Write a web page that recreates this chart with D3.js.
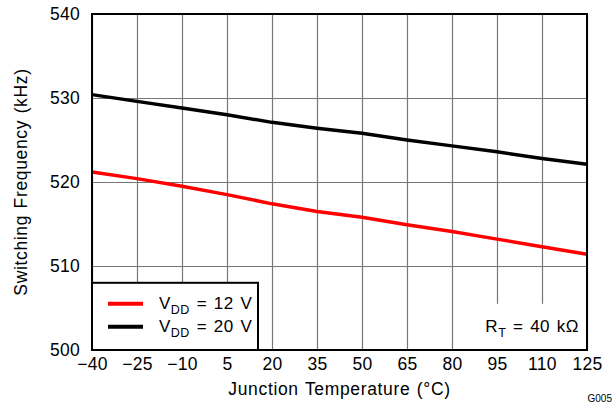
<!DOCTYPE html>
<html lang="en">
<head>
<meta charset="utf-8">
<title>Switching Frequency vs Junction Temperature</title>
<style>
  body { margin: 0; background: #fff; }
  svg text { font-family: "Liberation Sans", Arial, sans-serif; fill: #000; }
</style>
</head>
<body>
<svg width="612" height="403"></svg>
<script src="https://d3js.org/d3.v7.min.js"></script>
<script>
var temps = [-40, -25, -10, 5, 20, 35, 50, 65, 80, 95, 110, 125];
var freq20V = [530.4, 529.6, 528.8, 528.0, 527.1, 526.4, 525.8, 525.0, 524.3, 523.6, 522.8, 522.1];
var freq12V = [521.2, 520.4, 519.5, 518.5, 517.4, 516.5, 515.8, 514.9, 514.1, 513.2, 512.3, 511.4];
var xTicks = [-40, -25, -10, 5, 20, 35, 50, 65, 80, 95, 110, 125];
var yTicks = [500, 510, 520, 530, 540];
var series = [
  {name: "12 V", color: "#ff0000", values: freq12V},
  {name: "20 V", color: "#000000", values: freq20V}
];

var svg = d3.select("svg"),
    margin = {top: 14, right: 25, bottom: 53, left: 92},
    width = +svg.attr("width") - margin.left - margin.right,
    height = +svg.attr("height") - margin.top - margin.bottom,
    g = svg.append("g").attr("transform", "translate(" + margin.left + "," + margin.top + ")");

var x = d3.scaleLinear().domain([-40, 125]).range([0, width]);
var y = d3.scaleLinear().domain([500, 540]).range([height, 0]);

var fmt = function(d) { return d < 0 ? "\u2212" + Math.abs(d) : d; };

// grid
g.append("g")
    .attr("class", "grid")
    .attr("transform", "translate(0," + height + ")")
    .call(d3.axisBottom(x).tickValues(xTicks).tickSize(-height).tickFormat(""))
    .call(function(s) { s.select(".domain").remove(); });
g.append("g")
    .attr("class", "grid")
    .call(d3.axisLeft(y).tickValues(yTicks).tickSize(-width).tickFormat(""))
    .call(function(s) { s.select(".domain").remove(); });
g.selectAll(".grid line").attr("stroke", "#777").attr("stroke-width", 1.2);

// tick labels
g.append("g")
    .attr("transform", "translate(0," + height + ")")
    .call(d3.axisBottom(x).tickValues(xTicks).tickSize(0).tickPadding(8).tickFormat(fmt))
    .call(function(s) {
      s.select(".domain").remove();
      s.selectAll("text").attr("font-size", 17.5).attr("dy", "0.71em").attr("letter-spacing", 0.3)
        .attr("font-family", "Liberation Sans, Arial, sans-serif").attr("fill", "#000");
    });
g.append("g")
    .call(d3.axisLeft(y).tickValues(yTicks).tickSize(0).tickPadding(12))
    .call(function(s) {
      s.select(".domain").remove();
      s.selectAll("text").attr("font-size", 17.5).attr("letter-spacing", 0.3)
        .attr("font-family", "Liberation Sans, Arial, sans-serif").attr("fill", "#000");
    });

// series
var line = d3.line()
    .x(function(d, i) { return x(temps[i]); })
    .y(function(d) { return y(d); });

g.selectAll(".series")
  .data(series)
  .enter().append("path")
    .attr("fill", "none")
    .attr("stroke", function(d) { return d.color; })
    .attr("stroke-width", 3.5)
    .attr("stroke-linejoin", "round")
    .attr("d", function(d) { return line(d.values); });

// R_T note box
var note = g.append("g");
note.append("rect")
    .attr("x", x(88)).attr("y", y(505.5))
    .attr("width", x(125) - x(88)).attr("height", y(500) - y(505.5))
    .attr("fill", "#fff");
var nt = note.append("text")
    .attr("x", x(125) - 8).attr("y", y(502.1))
    .attr("text-anchor", "end")
    .attr("font-size", 17)
    .attr("letter-spacing", 0.5)
    .attr("word-spacing", 1.5);
nt.append("tspan").text("R");
nt.append("tspan").attr("font-size", 12.5).attr("dy", 5).text("T");
nt.append("tspan").attr("dy", -5).text(" = 40 k\u03a9");

// legend
var legend = g.append("g");
legend.append("rect")
    .attr("x", 0).attr("y", y(508))
    .attr("width", 166).attr("height", y(500) - y(508))
    .attr("fill", "#fff").attr("stroke", "#000").attr("stroke-width", 2);
var item = legend.selectAll(".item")
  .data(series)
  .enter().append("g")
    .attr("transform", function(d, i) { return "translate(0," + (y(505.5) + i * 23) + ")"; });
item.append("line")
    .attr("x1", 16).attr("x2", 51)
    .attr("stroke", function(d) { return d.color; })
    .attr("stroke-width", 4);
var lt = item.append("text")
    .attr("x", 67).attr("y", 5)
    .attr("font-size", 17)
    .attr("letter-spacing", 0.5)
    .attr("word-spacing", 1.5);
lt.append("tspan").text("V");
lt.append("tspan").attr("font-size", 12.5).attr("dy", 5).text("DD");
lt.append("tspan").attr("dy", -5).text(function(d) { return " = " + d.name; });

// frame
g.append("rect")
    .attr("width", width).attr("height", height)
    .attr("fill", "none").attr("stroke", "#000").attr("stroke-width", 2);

// axis titles
svg.append("text")
    .attr("transform", "translate(27," + (margin.top + height / 2) + ") rotate(-90)")
    .attr("text-anchor", "middle")
    .attr("font-size", 17.5)
    .attr("letter-spacing", 0.65)
    .attr("word-spacing", 1)
    .text("Switching Frequency (kHz)");
svg.append("text")
    .attr("x", margin.left + width / 2).attr("y", 395)
    .attr("text-anchor", "middle")
    .attr("font-size", 17.5)
    .attr("letter-spacing", 0.65)
    .attr("word-spacing", 1)
    .text("Junction Temperature (\u00b0C)");
svg.append("text")
    .attr("x", 612).attr("y", 402)
    .attr("text-anchor", "end")
    .attr("font-size", 10)
    .text("G005");
</script>
</body>
</html>
